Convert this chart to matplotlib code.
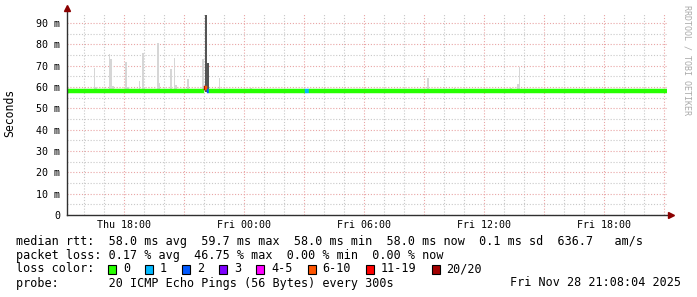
# SmokePing style latency graph (RRDtool look)

import numpy as np
import matplotlib
matplotlib.use('Agg')
import matplotlib.pyplot as plt
from matplotlib.patches import Rectangle

# --- data -------------------------------------------------------------
# time in hours counted from Thu 00:00, one step = 5 minutes
t_start = 15 + 8 / 60          # Thu 15:08
t_end = 45 + 8 / 60            # Fri 21:08
steps = np.arange(15 + 10 / 60, 45 + 5 / 60, 1 / 12)

median_rtt = 58.0              # ms, most of the time
# steps where the median / loss differs from the normal value
event_t = [20.5, 22.0, 22.0833, 22.1667, 24.5833, 27.0833, 27.1667, 35.5]
event_median = [58.3, 59.5, 59.7, 58.3, 58.3, 58.0, 58.0, 58.3]
event_loss = [0, 7, 5, 2, 0, 1, 1, 0]

# smoke (spread of the 20 pings): step time, highest ping in ms
smoke_t = [16.5, 16.58, 17.25, 17.33, 17.42, 18.08, 18.17, 18.75, 18.92, 19.0,
           19.67, 19.75, 20.33, 20.5, 20.58, 21.17, 21.92, 22.08, 22.17, 22.75,
           24.33, 28.0, 30.17, 33.17, 34.5, 37.33, 37.67, 37.75, 43.5]
smoke_max = [69.0, 60.0, 75.5, 73.0, 60.5, 71.9, 60.0, 63.0, 75.8, 60.0,
             80.8, 62.0, 68.4, 73.7, 61.0, 63.8, 73.0, 93.7, 71.2, 64.0,
             59.7, 59.5, 59.3, 64.4, 59.5, 59.7, 61.4, 69.2, 59.3]
smoke_dark = [22.08, 22.17]

loss_labels = ['0', '1', '2', '3', '4-5', '6-10', '11-19', '20/20']
loss_colors = ['#26ff00', '#00b8ff', '#0059ff', '#7e00ff', '#ff00ff',
               '#ff5500', '#ff0000', '#a10000']

ytick_vals = [0, 10, 20, 30, 40, 50, 60, 70, 80, 90]
ytick_labels = ['0', '10 m', '20 m', '30 m', '40 m', '50 m', '60 m', '70 m', '80 m', '90 m']
xtick_vals = [18, 24, 30, 36, 42]
xtick_labels = ['Thu 18:00', 'Fri 00:00', 'Fri 06:00', 'Fri 12:00', 'Fri 18:00']

line1 = 'median rtt:  58.0 ms avg  59.7 ms max  58.0 ms min  58.0 ms now  0.1 ms sd  636.7   am/s'
line2 = 'packet loss: 0.17 % avg  46.75 % max  0.00 % min  0.00 % now'
line4 = 'probe:       20 ICMP Echo Pings (56 Bytes) every 300s'
stamp = 'Fri Nov 28 21:08:04 2025'

# --- figure -------------------------------------------------------------
W, H = 697, 297
mono = 'DejaVu Sans Mono'
fig = plt.figure(figsize=(W / 100, H / 100), dpi=100)
fig.patch.set_facecolor('white')

def fx(x):
    return x / W

def fy(y):
    return 1 - y / H

ax = fig.add_axes([fx(67), fy(215), 600 / W, 202 / H])
ax.set_xlim(t_start, t_end)
ax.set_ylim(0, 94.7)
for s in ax.spines.values():
    s.set_visible(False)

# grid
ax.set_xticks(np.arange(18, 45.5, 3))
ax.set_xticks(np.arange(16, 45.5, 1), minor=True)
ax.set_yticks(np.arange(0, 91, 10))
ax.set_yticks(np.arange(5, 95, 10), minor=True)
ax.grid(which='major', color='#e9a5a5', linestyle=(0, (1, 1.6)), linewidth=0.8)
ax.grid(which='minor', color='#c8c8c8', linestyle=(0, (1, 1.6)), linewidth=0.8)
ax.set_axisbelow(True)

xl = []
for v in np.arange(18, 45.5, 3):
    xl.append(xtick_labels[xtick_vals.index(v)] if v in xtick_vals else '')
ax.set_xticklabels(xl, fontfamily=mono, fontsize=7.2)
ax.set_yticklabels(ytick_labels, fontfamily=mono, fontsize=7.2)
ax.tick_params(which='both', length=0)
ax.tick_params(axis='y', pad=5)
ax.tick_params(axis='x', pad=3.5)

# smoke
smoke_col = ['#545454' if t in smoke_dark else '#d6d6d6' for t in smoke_t]
ax.bar(smoke_t, np.array(smoke_max) - 57.8, bottom=57.8, width=1 / 12,
       color=smoke_col, linewidth=0, zorder=2)

# median line, coloured by packet loss
med = np.full(len(steps), median_rtt)
loss = np.zeros(len(steps), dtype=int)
for t, v, l in zip(event_t, event_median, event_loss):
    i = np.argmin(np.abs(steps - t))
    med[i] = v
    loss[i] = l
cols = [loss_colors[l] for l in loss]
ax.bar(steps, 1.88, bottom=med - 0.94, width=1 / 12, color=cols,
       edgecolor=cols, linewidth=0.3, zorder=3)

# axes with arrows
ax.plot([0, 0], [0, 1.02], transform=ax.transAxes, color='#303030', lw=1, clip_on=False, zorder=4)
ax.plot([0, 1.006], [0, 0], transform=ax.transAxes, color='#303030', lw=1, clip_on=False, zorder=4)
ax.plot([0], [1.025], marker='^', markersize=4, color='#8b0000', transform=ax.transAxes, clip_on=False, zorder=5)
ax.plot([1.006], [0], marker='>', markersize=4, color='#8b0000', transform=ax.transAxes, clip_on=False, zorder=5)

# labels
fig.text(fx(10), fy(113), 'Seconds', rotation=90, ha='center', va='center',
         fontfamily=mono, fontsize=8.3)
fig.text(fx(687), fy(5), 'RRDTOOL / TOBI OETIKER', rotation=270, ha='center', va='top',
         fontfamily=mono, fontsize=6, color='#aaaaaa')

# legend block
fs = 8.5
cw = 7.1
fig.text(fx(16), fy(241), line1, ha='left', va='center', fontfamily=mono, fontsize=fs)
fig.text(fx(16), fy(256), line2, ha='left', va='center', fontfamily=mono, fontsize=fs)
fig.text(fx(16), fy(269), 'loss color:', ha='left', va='center', fontfamily=mono, fontsize=fs)
bx = 108
for lab, c in zip(loss_labels, loss_colors):
    fig.patches.append(Rectangle((fx(bx), fy(273.5)), 8 / W, 9 / H, transform=fig.transFigure,
                                 facecolor=c, edgecolor='black', linewidth=0.8))
    fig.text(fx(bx + 15), fy(269), lab, ha='left', va='center', fontfamily=mono, fontsize=fs)
    bx = bx + 15 + len(lab) * cw + 15
fig.text(fx(16), fy(283), line4, ha='left', va='center', fontfamily=mono, fontsize=fs)
fig.text(fx(681), fy(283), stamp, ha='right', va='center', fontfamily=mono, fontsize=fs)

fig.savefig('out.png', dpi=100, facecolor='white')
